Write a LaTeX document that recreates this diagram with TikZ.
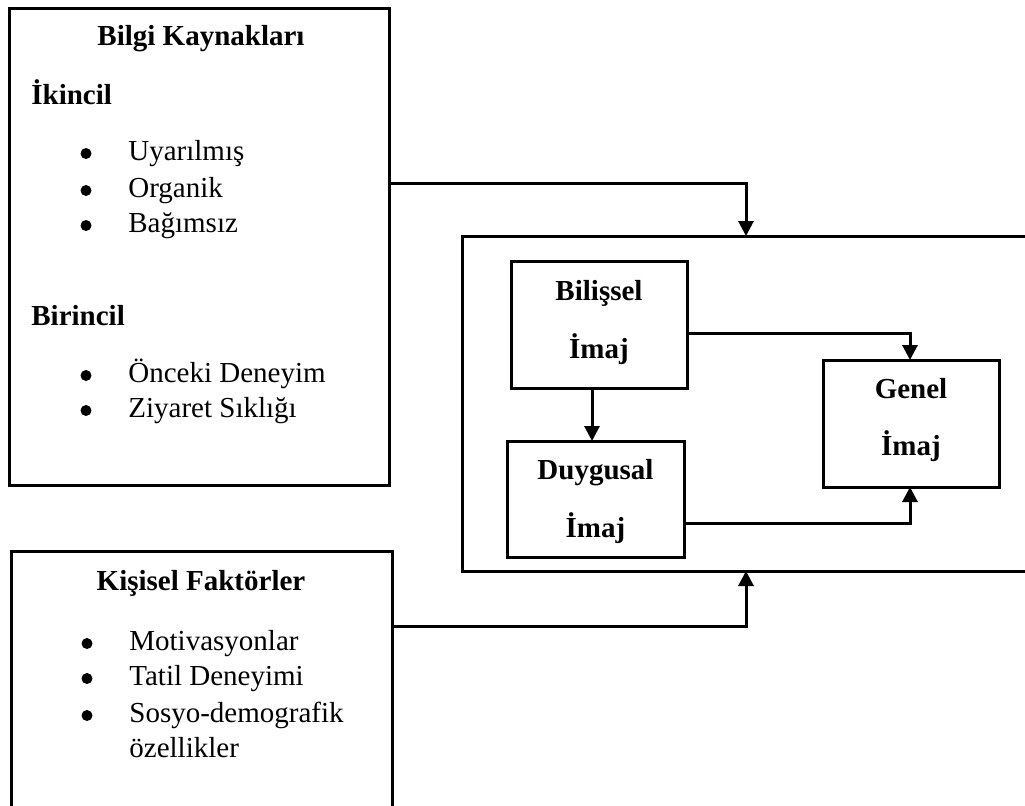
\documentclass[tikz,border=0pt]{standalone}
\usepackage{fontspec}
\setmainfont{Liberation Serif}
\usetikzlibrary{arrows.meta}
\begin{document}
\begin{tikzpicture}[x=0.5pt,y=-0.5pt,
  box/.style={draw,line width=1.5pt,inner sep=0pt,outer sep=0pt},
  arr/.style={line width=1.5pt,-{Triangle[width=7.5pt,length=7.5pt]}},
  txt/.style={inner sep=0pt,anchor=base west,font=\fontsize{14.5}{17}\selectfont},
  ttl/.style={inner sep=0pt,anchor=base,font=\fontsize{14.5}{17}\selectfont\bfseries},
  bul/.style={circle,fill,inner sep=0pt,minimum size=5.5pt}]
\clip (0,0) rectangle (1025,805);
% boxes
\node[box,minimum width=190pt,minimum height=238.5pt] (bilgi) at (199,247) {};
\node[box,minimum width=190.5pt,minimum height=139.5pt] (kisisel) at (201.5,690.5) {};
\node[box,minimum width=289pt,minimum height=167.5pt] (big) at (751,403.5) {};
\node[box,minimum width=88pt,minimum height=63.5pt] (bilissel) at (599,324.5) {};
\node[box,minimum width=88.5pt,minimum height=58pt] (duygusal) at (595.5,499) {};
\node[box,minimum width=88pt,minimum height=63.5pt] (genel) at (911,423.5) {};
% texts: Bilgi Kaynaklari
\node[ttl] (t1) at (201,45) {Bilgi Kaynakları};
\node[txt,font=\fontsize{14.5}{17}\selectfont\bfseries] (t2) at (31,104) {İkincil};
\node[bul] (b1) at (86,153.5) {};
\node[txt] (u1) at (128,160) {Uyarılmış};
\node[bul] (b2) at (86,190.5) {};
\node[txt] (u2) at (128,197) {Organik};
\node[bul] (b3) at (86,225.5) {};
\node[txt] (u3) at (128,232) {Bağımsız};
\node[txt,font=\fontsize{14.5}{17}\selectfont\bfseries] (t3) at (31,325) {Birincil};
\node[bul] (b4) at (86,375.5) {};
\node[txt] (u4) at (128,382) {Önceki Deneyim};
\node[bul] (b5) at (86,410.5) {};
\node[txt] (u5) at (128,417) {Ziyaret Sıklığı};
% Kisisel Faktorler
\node[ttl] (t4) at (201,590) {Kişisel Faktörler};
\node[bul] (b6) at (87,643.5) {};
\node[txt] (k1) at (129,650) {Motivasyonlar};
\node[bul] (b7) at (87,678.5) {};
\node[txt] (k2) at (129,685) {Tatil Deneyimi};
\node[bul] (b8) at (87,715.5) {};
\node[txt] (k3) at (129,722) {Sosyo-demografik};
\node[txt] (k4) at (129,757) {özellikler};
% inner box texts
\node[ttl] (i1) at (599,300) {Bilişsel};
\node[ttl] (i2) at (599,358) {İmaj};
\node[ttl] (i3) at (595.5,479) {Duygusal};
\node[ttl] (i4) at (595.5,537) {İmaj};
\node[ttl] (i5) at (911,398) {Genel};
\node[ttl] (i6) at (911,455) {İmaj};
% connectors
\coordinate (r1) at (746,183);
\coordinate (r2) at (746,626);
\coordinate (r3) at (592,0);
\coordinate (r4) at (910,333);
\coordinate (r5) at (910,523);
\draw[arr] (bilgi.east |- r1) -| (big.north -| r1);
\draw[arr] (kisisel.east |- r2) -| (big.south -| r2);
\draw[arr] (bilissel.south -| r3) -- (duygusal.north -| r3);
\draw[arr] (bilissel.east |- r4) -| (genel.north -| r4);
\draw[arr] (duygusal.east |- r5) -| (genel.south -| r5);
\end{tikzpicture}
\end{document}
